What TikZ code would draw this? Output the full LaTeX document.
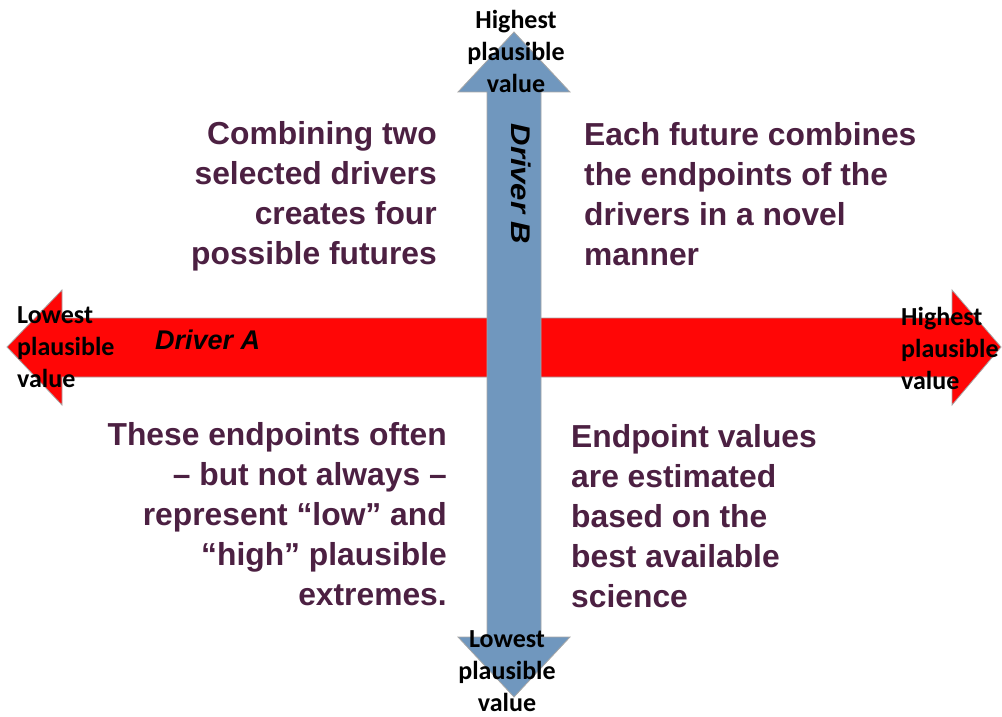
\documentclass[tikz,border=0pt]{standalone}
\usepackage{fontspec}
\setmainfont{Liberation Sans}
\newfontfamily\lblfont{Carlito}
\definecolor{plum}{RGB}{76,32,66}
\definecolor{arrred}{RGB}{255,6,6}
\definecolor{arrblue}{RGB}{112,151,190}
\begin{document}
\begin{tikzpicture}[x=1pt,y=-1pt,
  body/.style={font=\fontsize{31.8}{40}\selectfont\bfseries, text=plum, inner sep=0pt},
  endlabel/.style={font=\lblfont\fontsize{26}{32}\selectfont\bfseries, text=black, inner sep=0pt},
  drivername/.style={font=\fontsize{27}{32}\selectfont\bfseries\itshape, text=black, inner sep=0pt},
  arrowshape/.style={draw=gray!70, line width=0.8pt, line join=miter}]
\useasboundingbox (0,0) rectangle (1002,717);
% horizontal red double arrow (Driver A)
\path[arrowshape, fill=arrred] (7,347) -- (62,290) -- (62,318) -- (952,318) -- (952,290)
  -- (1001,347) -- (952,405) -- (952,377) -- (62,377) -- (62,405) -- cycle;
% vertical blue double arrow (Driver B)
\path[arrowshape, fill=arrblue] (514,32) -- (570,92) -- (541,92) -- (541,637) -- (570,637)
  -- (514,697) -- (458,637) -- (487,637) -- (487,92) -- (458,92) -- cycle;
% driver names
\node[drivername, anchor=west] (drA) at (155,340) {Driver A};
\node[drivername, rotate=-90] (drB) at (521,184) {\scalebox{1.15}[1]{Driver B}};
% end labels
\node[endlabel, align=center] (topl) at (516,51) {Highest\\plausible\\value};
\node[endlabel, align=center] (botl) at (507,671) {Lowest\\plausible\\value};
\node[endlabel, align=left, anchor=west] (leftl) at (17,347) {Lowest\\plausible\\value};
\node[endlabel, align=left, anchor=west] (rightl) at (901,348) {Highest\\plausible\\value};
% quadrant texts
\node[body, align=right, anchor=east] (q1) at (437,196) {Combining two\\selected drivers\\creates four\\possible futures};
\node[body, align=left, anchor=west] (q2) at (584,194) {Each future combines\\the endpoints of the\\drivers in a novel\\manner};
\node[body, align=right, anchor=east] (q3) at (447,514) {These endpoints often\\– but not always –\\represent “low” and\\“high” plausible\\extremes.};
\node[body, align=left, anchor=west] (q4) at (571,516) {Endpoint values\\are estimated\\based on the\\best available\\science};
\end{tikzpicture}
\end{document}
